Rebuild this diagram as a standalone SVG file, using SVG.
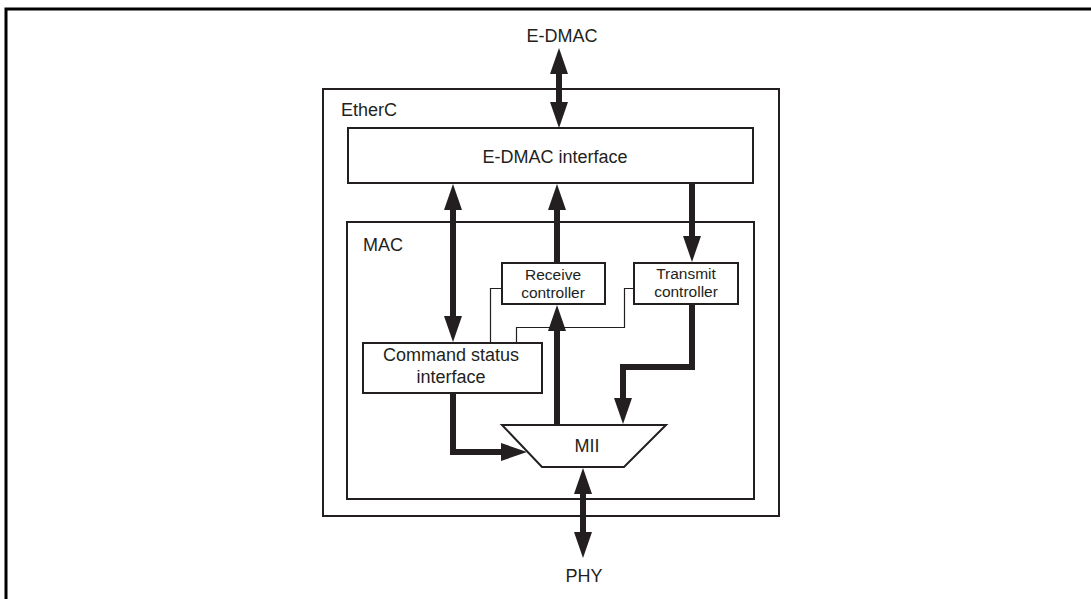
<svg xmlns="http://www.w3.org/2000/svg" width="1091" height="599" viewBox="0 0 1091 599">
<style>
.box{fill:#fff;stroke:#231f20;stroke-width:2}
.frame{fill:none;stroke:#000;stroke-width:3}
.thick{fill:none;stroke:#231f20;stroke-width:6;stroke-linejoin:miter}
.thin{fill:none;stroke:#231f20;stroke-width:1.2}
.t{font-family:"Liberation Sans",Arial,sans-serif;font-size:18px;fill:#231f20}
.s{font-family:"Liberation Sans",Arial,sans-serif;font-size:15.5px;fill:#231f20}
.m{text-anchor:middle}
</style>
<defs>
<marker id="ah" markerUnits="userSpaceOnUse" markerWidth="28" markerHeight="19" refX="2" refY="9" orient="auto-start-reverse" viewBox="0 0 28 18">
<path d="M0,0 L26,9 L0,18 z" fill="#231f20"/>
</marker>
</defs>
<rect width="1091" height="599" fill="#fff"/>
<path class="frame" d="M6,599 V9 H1091"/>

<g id="etherc">
<rect class="box" x="323" y="89" width="456" height="427"/>
<text class="t" x="341" y="116">EtherC</text>
</g>
<g id="edmac-label"><text class="t m" x="562" y="42">E-DMAC</text></g>
<g id="phy-label"><text class="t m" x="584" y="582">PHY</text></g>
<g id="edmac-if">
<rect class="box" x="348" y="128" width="405" height="55"/>
<text class="t m" x="555" y="163">E-DMAC interface</text>
</g>
<g id="mac">
<rect class="box" x="347" y="222" width="407" height="277"/>
<text class="t" x="363" y="251">MAC</text>
</g>
<g id="rx">
<rect class="box" x="502" y="263" width="103" height="41"/>
<text class="s m" x="553" y="280">Receive</text>
<text class="s m" x="553" y="298">controller</text>
</g>
<g id="tx">
<rect class="box" x="634" y="263" width="104" height="41"/>
<text class="s m" x="686" y="279">Transmit</text>
<text class="s m" x="686" y="297">controller</text>
</g>
<g id="csi">
<rect class="box" x="363" y="343" width="179" height="50"/>
<text class="t m" x="451" y="361">Command status</text>
<text class="t m" x="451" y="383">interface</text>
</g>
<g id="mii">
<polygon class="box" points="502,425 666,425 624,467 542,467"/>
<text class="t m" x="587" y="452">MII</text>
</g>

<g id="connectors">
<path class="thick" d="M559,72 V104" marker-start="url(#ah)" marker-end="url(#ah)"/>
<path class="thick" d="M453,208 V318" marker-start="url(#ah)" marker-end="url(#ah)"/>
<path class="thick" d="M557,263 V208" marker-end="url(#ah)"/>
<path class="thick" d="M692,183 V238" marker-end="url(#ah)"/>
<path class="thick" d="M557,425 V329" marker-end="url(#ah)"/>
<path class="thick" d="M692,304 V367 H623 V400" marker-end="url(#ah)"/>
<path class="thick" d="M453,393 V452 H503" marker-end="url(#ah)"/>
<path class="thick" d="M583,492 V534" marker-start="url(#ah)" marker-end="url(#ah)"/>
<path class="thin" d="M502,288.5 H490.5 V343"/>
<path class="thin" d="M634,288.5 H624.5 V327.5 H516.5 V343"/>
</g>
</svg>
